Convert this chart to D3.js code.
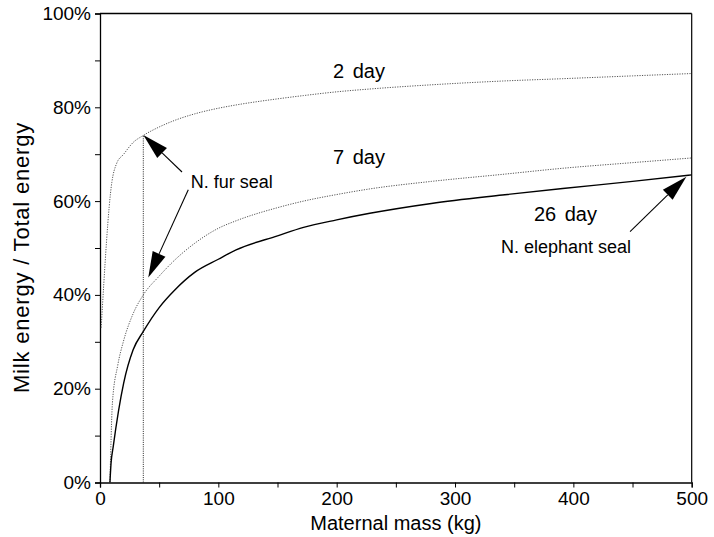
<!DOCTYPE html>
<html>

<head>
		<title>Milk energy vs maternal mass</title>
		<!-- d3js -->
		<script src="https://cdnjs.cloudflare.com/ajax/libs/d3/7.8.5/d3.min.js"></script>
		<style>
			body { margin: 0; background: #fff; }
			text { font-family: "Liberation Sans", Arial, Helvetica, sans-serif; fill: #000; }
		</style>
</head>

<body>
		<script type="text/javascript">
		//maternal mass (kg) and milk energy share (%)
		var twoDayMass = [1, 10, 14, 20, 28, 36.6, 50, 63, 80, 100, 115, 150, 172, 200, 228, 287, 340, 391, 450, 500];
		var twoDayPct = [33, 64, 68, 70, 72.5, 74, 75.8, 77.2, 78.6, 79.8, 80.5, 81.8, 82.5, 83.3, 83.9, 84.9, 85.6, 86.1, 86.7, 87.2];

		var sevenDayMass = [8.4, 9, 10.5, 15, 19.7, 28, 36.6, 50, 63, 80, 100, 115, 150, 172, 200, 228, 280, 340, 391, 450, 500];
		var sevenDayPct = [0, 6, 17, 25, 30, 36, 40, 44, 47.4, 51, 54.2, 55.8, 58.6, 60, 61.4, 62.6, 64.2, 65.7, 67, 68.2, 69.2];

		var twentySixDayMass = [8.4, 9.3, 11.2, 20, 28, 36.6, 50, 63, 80, 100, 115, 150, 172, 200, 228, 280, 340, 391, 450, 500];
		var twentySixDayPct = [0, 4, 7.7, 21.2, 28.3, 32.2, 37.3, 41, 44.8, 47.6, 49.6, 52.6, 54.4, 56, 57.4, 59.5, 61.3, 62.7, 64.2, 65.6];

		//northern fur seal mass, marked by the vertical line
		var furSealMass = 36.6;

		//axis ticks
		var xTicks = [0, 50, 100, 150, 200, 250, 300, 350, 400, 450, 500];
		var xLabels = ["0", "", "100", "", "200", "", "300", "", "400", "", "500"];
		var yTicks = [0, 10, 20, 30, 40, 50, 60, 70, 80, 90, 100];
		var yLabels = ["0%", "", "20%", "", "40%", "", "60%", "", "80%", "", "100%"];

		//text labels: [text, mass, pct] (baseline start)
		var dayLabels = [["2 day", 196.9, 86.2], ["7 day", 196.9, 67.9], ["26 day", 366.7, 55.8]];
		var noteLabels = [["N. fur seal", 76.6, 62.7], ["N. elephant seal", 338.8, 49]];

		//arrows: [fromMass, fromPct, toMass, toPct]
		var arrows = [[69.3, 66.2, 36.6, 74.1], [74.6, 62.4, 40.8, 43.7], [447.9, 53.5, 495.5, 65.2]];

		var self = {};
		self.width = 714;
		self.height = 537;
		self.margin = { top: 13.5, right: 22.3, bottom: 54.5, left: 100 };

		self.init = function() {
			var m = self.margin;
			var w = self.width - m.left - m.right;
			var h = self.height - m.top - m.bottom;

			var x = d3.scaleLinear().domain([0, 500]).range([0, w]);
			var y = d3.scaleLinear().domain([0, 100]).range([h, 0]);

			var svg = d3.select("body")
				.append("svg")
				.attr("width", self.width)
				.attr("height", self.height);

			var canvas = svg.append("g")
				.attr("transform", "translate(" + m.left + "," + m.top + ")");

			//frame on top and right
			canvas.append("line")
				.attr("x1", 0).attr("y1", 0).attr("x2", w).attr("y2", 0)
				.attr("stroke", "#000").attr("stroke-width", 1.6);
			canvas.append("line")
				.attr("x1", w).attr("y1", 0).attr("x2", w).attr("y2", h)
				.attr("stroke", "#000").attr("stroke-width", 1.2);

			var xAxis = d3.axisBottom(x)
				.tickValues(xTicks)
				.tickSize(5)
				.tickPadding(4.5)
				.tickFormat(function(d, i) { return xLabels[i]; });

			var yAxis = d3.axisLeft(y)
				.tickValues(yTicks)
				.tickSize(5)
				.tickPadding(4)
				.tickFormat(function(d, i) { return yLabels[i]; });

			var gx = canvas.append("g")
				.attr("transform", "translate(0," + h + ")")
				.call(xAxis);
			var gy = canvas.append("g").call(yAxis);

			[gx, gy].forEach(function(g) {
				g.select(".domain").attr("stroke", "#000").attr("stroke-width", 1.3);
				g.selectAll(".tick line").attr("stroke", "#000").attr("stroke-width", 1);
				g.selectAll(".tick text").style("font-size", "19px").attr("fill", "#000");
			});

			//axis titles
			canvas.append("text")
				.attr("x", w / 2)
				.attr("y", h + 47.5)
				.attr("text-anchor", "middle")
				.style("font-size", "20px")
				.text("Maternal mass (kg)");

			svg.append("text")
				.attr("transform", "translate(28.5,257.5) rotate(-90)")
				.attr("text-anchor", "middle")
				.style("font-size", "22px")
				.style("letter-spacing", "0.8px")
				.text("Milk energy / Total energy");

			var line = d3.line()
				.x(function(d) { return x(d[0]); })
				.y(function(d) { return y(d[1]); })
				.curve(d3.curveMonotoneX);

			var series = [
				{ mass: twoDayMass, pct: twoDayPct, dash: "1.2,1.3", color: "#555", width: 1 },
				{ mass: sevenDayMass, pct: sevenDayPct, dash: "1.2,1.3", color: "#555", width: 1 },
				{ mass: twentySixDayMass, pct: twentySixDayPct, dash: null, color: "#000", width: 1.4 }
			];

			series.forEach(function(s) {
				var pts = s.mass.map(function(v, i) { return [v, s.pct[i]]; });
				canvas.append("path")
					.datum(pts)
					.attr("d", line)
					.attr("fill", "none")
					.attr("stroke", s.color)
					.attr("stroke-width", s.width)
					.attr("stroke-dasharray", s.dash);
			});

			//vertical line at fur seal mass, up to the 2 day curve
			var furIdx = twoDayMass.indexOf(furSealMass);
			canvas.append("line")
				.attr("x1", x(furSealMass)).attr("x2", x(furSealMass))
				.attr("y1", y(0)).attr("y2", y(twoDayPct[furIdx]))
				.attr("stroke", "#222")
				.attr("stroke-width", 1)
				.attr("stroke-dasharray", "1,1.2");

			//labels
			canvas.selectAll(".daylabel")
				.data(dayLabels)
				.enter()
					.append("text")
					.attr("class", "daylabel")
					.attr("x", function(d) { return x(d[1]); })
					.attr("y", function(d) { return y(d[2]); })
					.style("font-size", "20px")
					.style("word-spacing", "3px")
					.text(function(d) { return d[0]; });

			canvas.selectAll(".note")
				.data(noteLabels)
				.enter()
					.append("text")
					.attr("class", "note")
					.attr("x", function(d) { return x(d[1]); })
					.attr("y", function(d) { return y(d[2]); })
					.style("font-size", "18px")
					.text(function(d) { return d[0]; });

			//arrows with filled heads
			var headLen = 26, headHalf = 7;
			arrows.forEach(function(a) {
				var x1 = x(a[0]), y1 = y(a[1]), x2 = x(a[2]), y2 = y(a[3]);
				var ang = Math.atan2(y2 - y1, x2 - x1);
				var bx = x2 - headLen * Math.cos(ang), by = y2 - headLen * Math.sin(ang);
				canvas.append("line")
					.attr("x1", x1).attr("y1", y1).attr("x2", bx).attr("y2", by)
					.attr("stroke", "#000").attr("stroke-width", 1.1);
				var px = -Math.sin(ang) * headHalf, py = Math.cos(ang) * headHalf;
				canvas.append("polygon")
					.attr("points", [[x2, y2], [bx + px, by + py], [bx - px, by - py]].map(function(p) { return p.join(","); }).join(" "))
					.attr("fill", "#000");
			});
		};

		//call initial load sequence
		self.init();
		</script>
</body>

</html>
